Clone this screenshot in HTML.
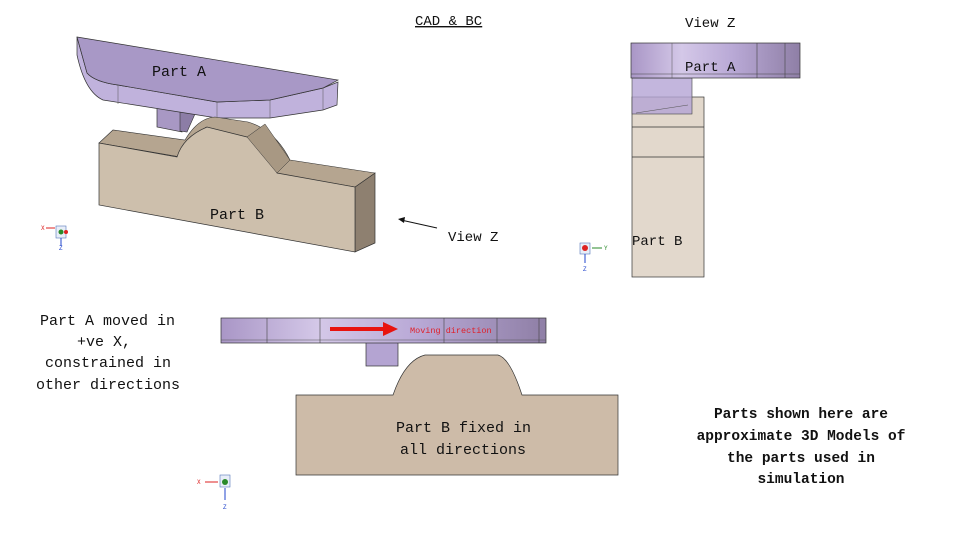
<!DOCTYPE html>
<html><head><meta charset="utf-8"><style>
body{margin:0;background:#fff}
svg{display:block}
text{font-family:"Liberation Mono","Noto Serif CJK SC",monospace;fill:#111}
</style></head><body>
<svg width="960" height="540" viewBox="0 0 960 540" xmlns="http://www.w3.org/2000/svg">
<defs>
<linearGradient id="pa" x1="0" x2="1"><stop offset="0" stop-color="#a996c6"/><stop offset=".3" stop-color="#d4c8e8"/><stop offset=".6" stop-color="#b9a9d6"/><stop offset="1" stop-color="#8f7fa6"/></linearGradient>
</defs>
<polygon points="157,104 182,110 182,132 157,127" fill="#a898c4" stroke="#333" stroke-width=".7"/>
<polygon points="180,112 195,114 187,132 180,131" fill="#8c7da6" stroke="#333" stroke-width=".6"/>
<path d="M77,37 L87,73 Q95,82 118,85 L217,102 L270,100 L323,88 L338,82 L337,105 L323,110 L270,118 L217,118 L103,100 Q85,92 77,55 Z" fill="#c0b2dc" stroke="#333" stroke-width=".7"/>
<path d="M77,37 L338,80 L323,88 L270,100 L217,102 L118,85 Q95,82 87,73 Z" fill="#a898c6" stroke="#333" stroke-width=".7"/>
<line x1="118" y1="85" x2="118" y2="104" stroke="#555" stroke-width=".5"/>
<line x1="217" y1="102" x2="217" y2="118" stroke="#555" stroke-width=".5"/>
<line x1="270" y1="100" x2="270" y2="118" stroke="#555" stroke-width=".5"/>
<line x1="323" y1="88" x2="323" y2="110" stroke="#555" stroke-width=".5"/>
<text x="152" y="76" font-size="15">Part A</text>
<polygon points="355,187 375,173 375,243 355,252" fill="#8e8070" stroke="#333" stroke-width=".7"/>
<path d="M99,143 L113,130 L185,140 Q198,118 215,117 L248,122 Q275,130 290,160 L375,173 L355,187 Z" fill="#b5a590" stroke="#333" stroke-width=".6"/>
<path d="M99,143 L177,157 Q183,137 207,127 L247,137 Q265,148 277,173 L355,187 L355,252 L99,205 Z" fill="#cdbfac" stroke="#333" stroke-width=".7"/>
<polygon points="247,137 265,124 290,160 277,173" fill="#a89883" stroke="#333" stroke-width=".5"/>
<text x="210" y="219" font-size="15">Part B</text>
<g font-size="6"><rect x="56" y="226" width="10" height="12" fill="#e8eef8" stroke="#5577bb" stroke-width=".6"/><circle cx="61" cy="232" r="2.5" fill="#2a8a2a"/><circle cx="66" cy="232" r="2" fill="#d22"/><line x1="46" y1="228" x2="55" y2="228" stroke="#d22"/><text x="41" y="230" style="fill:#d22">X</text><text x="59" y="250" style="fill:#2244cc">Z</text><line x1="61" y1="238" x2="61" y2="246" stroke="#2244cc"/></g>
<line x1="437" y1="228" x2="401" y2="220" stroke="#111" stroke-width="1"/>
<polygon points="398,219 405,217 404,223" fill="#111"/>
<text x="448" y="241" font-size="14">View Z</text>
<text x="415" y="25" font-size="14" text-decoration="underline">CAD &amp; BC</text>
<text x="685" y="27" font-size="14">View Z</text>
<rect x="632" y="97" width="72" height="180" fill="#e2d8cc" stroke="#333" stroke-width=".7"/>
<line x1="632" y1="127" x2="704" y2="127" stroke="#333" stroke-width=".7"/>
<line x1="632" y1="157" x2="704" y2="157" stroke="#333" stroke-width=".7"/>
<rect x="632" y="78" width="60" height="36" fill="#b4a4d4" fill-opacity=".8" stroke="#444" stroke-width=".6"/>
<line x1="636" y1="113" x2="688" y2="105" stroke="#555" stroke-width=".6"/>
<rect x="631" y="43" width="169" height="35" fill="url(#pa)" stroke="#333" stroke-width=".7"/>
<line x1="631" y1="74" x2="800" y2="74" stroke="#444" stroke-width=".5"/>
<line x1="672" y1="43" x2="672" y2="78" stroke="#555" stroke-width=".5"/>
<line x1="757" y1="43" x2="757" y2="78" stroke="#444" stroke-width=".6"/>
<line x1="785" y1="43" x2="785" y2="78" stroke="#444" stroke-width=".6"/>
<text x="685" y="71" font-size="14">Part A</text>
<text x="632" y="245" font-size="14">Part B</text>
<g font-size="6"><rect x="580" y="243" width="10" height="11" fill="#e8eef8" stroke="#5577bb" stroke-width=".6"/><circle cx="585" cy="248" r="3" fill="#d22"/><line x1="592" y1="248" x2="602" y2="248" stroke="#2a8a2a"/><text x="604" y="250" style="fill:#2a8a2a">Y</text><line x1="585" y1="254" x2="585" y2="263" stroke="#2244cc"/><text x="583" y="271" style="fill:#2244cc">Z</text></g>
<text x="40" y="325" font-size="15">Part A moved in</text>
<text x="77" y="346" font-size="15">+ve X,</text>
<text x="45" y="367" font-size="15">constrained in</text>
<text x="36" y="389" font-size="15">other directions</text>
<path d="M296,395 L393,395 Q405,360 425,355 L498,355 Q510,358 522,395 L618,395 L618,475 L296,475 Z" fill="#cdbba8" stroke="#333" stroke-width=".7"/>
<text x="396" y="432" font-size="15">Part B fixed in</text>
<text x="400" y="454" font-size="15">all directions</text>
<rect x="366" y="340" width="32" height="26" fill="#b4a4d2" stroke="#333" stroke-width=".7"/>
<rect x="221" y="318" width="325" height="25" fill="url(#pa)" stroke="#333" stroke-width=".7"/>
<line x1="221" y1="340" x2="546" y2="340" stroke="#555" stroke-width=".5"/>
<line x1="267" y1="318" x2="267" y2="343" stroke="#444" stroke-width=".6"/>
<line x1="320" y1="318" x2="320" y2="343" stroke="#444" stroke-width=".6"/>
<line x1="444" y1="318" x2="444" y2="343" stroke="#444" stroke-width=".6"/>
<line x1="497" y1="318" x2="497" y2="343" stroke="#444" stroke-width=".6"/>
<line x1="539" y1="318" x2="539" y2="343" stroke="#444" stroke-width=".6"/>
<rect x="330" y="327" width="53" height="4" fill="#e8130f"/>
<polygon points="383,322 398,329 383,336" fill="#e8130f"/>
<text x="410" y="333" font-size="8.5" style="fill:#e0202a">Moving direction</text>
<g font-size="6"><rect x="220" y="475" width="10" height="12" fill="#e8eef8" stroke="#5577bb" stroke-width=".6"/><circle cx="225" cy="482" r="3" fill="#2a8a2a"/><line x1="205" y1="482" x2="218" y2="482" stroke="#d22"/><text x="197" y="484" style="fill:#d22">X</text><line x1="225" y1="488" x2="225" y2="500" stroke="#2244cc"/><text x="223" y="509" style="fill:#2244cc">Z</text></g>
<g font-size="14.5" font-weight="bold" text-anchor="middle">
<text x="801" y="418">Parts shown here are</text>
<text x="801" y="440">approximate 3D Models of</text>
<text x="801" y="462">the parts used in</text>
<text x="801" y="483">simulation</text>
</g>
</svg>
</body></html>
